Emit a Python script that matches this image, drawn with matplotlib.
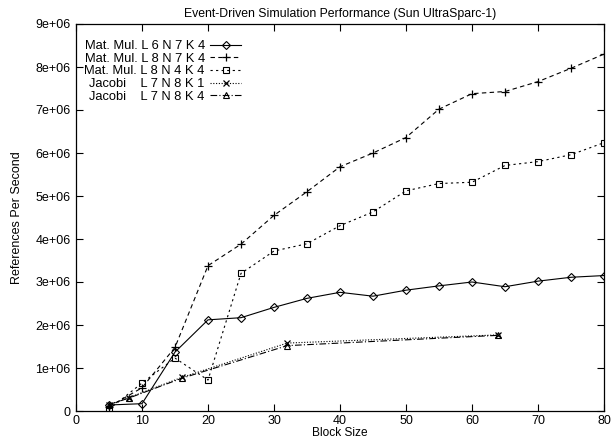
import matplotlib
matplotlib.use("Agg")
import matplotlib.pyplot as plt

plt.rcParams['font.family'] = ['Liberation Sans', 'DejaVu Sans']

# block sizes
matBlocks = [5, 10, 15, 20, 25, 30, 35, 40, 45, 50, 55, 60, 65, 70, 75, 80]
jacobiBlocks = [5, 8, 16, 32, 64]

# references per second
matL6N7K4 = [0.14e6, 0.17e6, 1.37e6, 2.12e6, 2.17e6, 2.41e6, 2.62e6, 2.76e6,
             2.67e6, 2.81e6, 2.91e6, 3.00e6, 2.89e6, 3.02e6, 3.11e6, 3.15e6]
matL8N7K4 = [0.10e6, 0.54e6, 1.48e6, 3.38e6, 3.88e6, 4.55e6, 5.10e6, 5.68e6,
             6.00e6, 6.36e6, 7.02e6, 7.38e6, 7.43e6, 7.66e6, 7.97e6, 8.30e6]
matL8N4K4 = [0.04e6, 0.65e6, 1.23e6, 0.72e6, 3.20e6, 3.72e6, 3.89e6, 4.31e6,
             4.63e6, 5.12e6, 5.29e6, 5.32e6, 5.71e6, 5.80e6, 5.96e6, 6.24e6]
jacobiL7N8K1 = [0.15e6, 0.31e6, 0.78e6, 1.58e6, 1.77e6]
jacobiL7N8K4 = [0.15e6, 0.30e6, 0.76e6, 1.52e6, 1.76e6]

labels = ["Mat. Mul. L 6 N 7 K 4", "Mat. Mul. L 8 N 7 K 4", "Mat. Mul. L 8 N 4 K 4",
          "Jacobi    L 7 N 8 K 1", "Jacobi    L 7 N 8 K 4"]
xTicks = [0, 10, 20, 30, 40, 50, 60, 70, 80]
yTicks = [0, 1e6, 2e6, 3e6, 4e6, 5e6, 6e6, 7e6, 8e6, 9e6]
yTickLabels = ["0", "1e+06", "2e+06", "3e+06", "4e+06", "5e+06", "6e+06", "7e+06", "8e+06", "9e+06"]

fig = plt.figure(figsize=(6.12, 4.40), dpi=100)
ax = fig.add_axes([76 / 612, 29 / 440, 528 / 612, 387 / 440])

lw = 0.8
ax.plot(matBlocks, matL6N7K4, color='k', lw=lw, linestyle='-', marker='D', ms=3.8,
        mfc='none', mew=0.8, label=labels[0])
ax.plot(matBlocks, matL8N7K4, color='k', lw=lw, linestyle=(0, (4, 3)), marker='+', ms=6,
        mew=0.9, label=labels[1])
ax.plot(matBlocks, matL8N4K4, color='k', lw=lw, linestyle=(0, (2, 3)), marker='s', ms=5,
        mfc='none', mew=0.8, label=labels[2])
ax.plot(jacobiBlocks, jacobiL7N8K1, color='k', lw=lw, linestyle=(0, (1, 1.5)), marker='x', ms=5,
        mew=0.9, label=labels[3])
ax.plot(jacobiBlocks, jacobiL7N8K4, color='k', lw=lw, linestyle=(0, (6, 2, 1, 2)), marker='^', ms=5,
        mfc='none', mew=0.8, label=labels[4])

ax.set_xlim(0, 80)
ax.set_ylim(0, 9e6)
ax.set_xticks(xTicks)
ax.set_yticks(yTicks)
ax.set_yticklabels(yTickLabels)
ax.tick_params(direction='in', length=5, width=0.8, labelsize=9, top=True, right=True, pad=4)
ax.tick_params(axis='x', pad=3)
for spine in ax.spines.values():
    spine.set_linewidth(0.9)

ax.set_title("Event-Driven Simulation Performance (Sun UltraSparc-1)", fontsize=8.8, pad=5)
ax.set_xlabel("Block Size", fontsize=8.6, labelpad=0)
ax.set_ylabel("References Per Second", fontsize=9, labelpad=9)

ax.legend(loc='upper right', bbox_to_anchor=(241 / 612, 1 - 40 / 440), bbox_transform=fig.transFigure,
          frameon=False, markerfirst=False, numpoints=1, handlelength=2.4, handletextpad=0.4,
          labelspacing=0.05, fontsize=9.3, borderpad=0, borderaxespad=0)

fig.savefig("out.png", dpi=100)
